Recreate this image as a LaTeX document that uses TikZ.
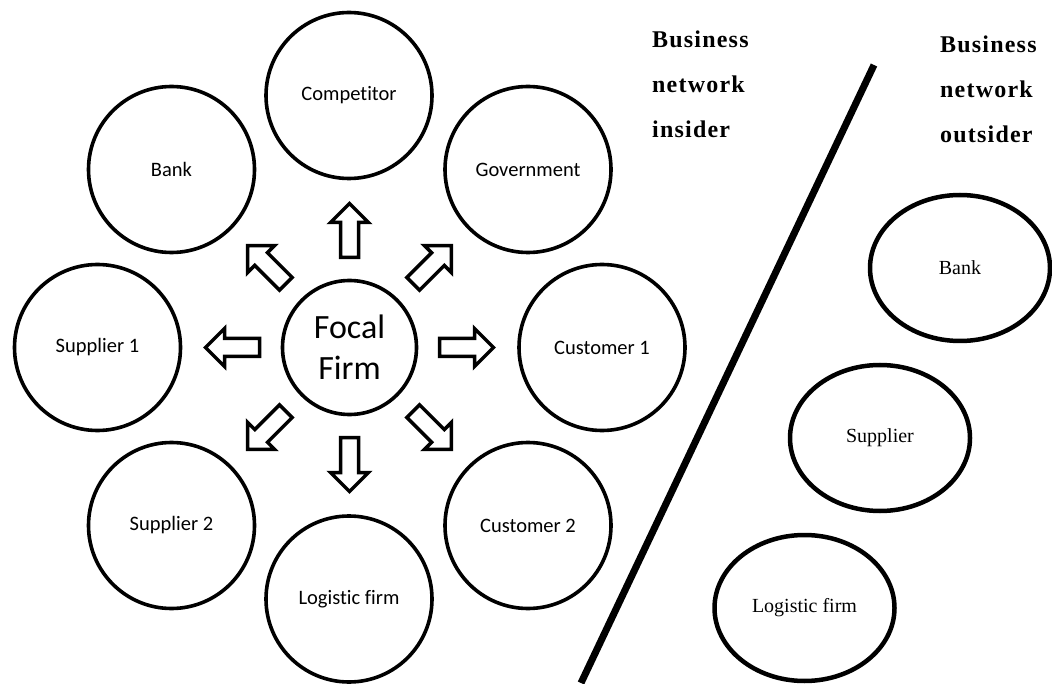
\documentclass[tikz,border=0pt]{standalone}
\usepackage{fontspec}
\setmainfont{Carlito}[Ligatures=NoCommon]
\newfontfamily\serifface{Liberation Serif}
\usetikzlibrary{shapes.geometric}

\tikzset{
  party/.style={circle, draw, line width=3.6pt, minimum size=166pt, inner sep=0pt,
                font=\fontsize{20.5}{24}\selectfont},
  focal/.style={circle, draw, line width=3.6pt, minimum size=134pt, inner sep=0pt,
                align=center, font=\fontsize{34}{41}\selectfont},
  outer/.style={ellipse, draw, line width=4.5pt, minimum width=180pt, minimum height=146pt,
                inner sep=0pt, font=\serifface\fontsize{20}{24}\selectfont},
  blockarrow/.style={draw, line width=3.5pt, fill=white, line join=miter},
  heading/.style={anchor=north west, inner sep=0pt, align=left,
                  font=\serifface\bfseries\addfontfeatures{LetterSpace=5}\fontsize{24}{45}\selectfont},
  divider/.style={line width=7pt}
}

\begin{document}
\begin{tikzpicture}[x=1pt, y=-1pt]
  \useasboundingbox (0,0) rectangle (1052,684);

  % focal firm and its network partners
  \node[focal] (F) at (349.5,347.5) {Focal\\Firm};
  \node[party] (comp) at (349,95.5)  {Competitor};
  \node[party] (bank) at (171.5,169.5) {Bank};
  \node[party] (gov)  at (528,169.5) {Government};
  \node[party] (sup1) at (97.5,347.5) {Supplier 1};
  \node[party] (cus1) at (602,347.5) {Customer 1};
  \node[party] (sup2) at (171.5,525.5) {Supplier 2};
  \node[party] (cus2) at (528,525.5) {Customer 2};
  \node[party] (log)  at (349,599)   {Logistic firm};

  % outlined block arrows radiating from the focal firm
  \foreach \a in {0,45,...,315}{
    \begin{scope}[shift={(F.center)}, rotate=\a]
      \draw[blockarrow] (90,-9) -- (125,-9) -- (125,-19) -- (144,0)
                        -- (125,19) -- (125,9) -- (90,9) -- cycle;
    \end{scope}
  }

  % dividing line between insiders and outsiders
  \coordinate (divtop) at (874,65);
  \coordinate (divbot) at (581,683);
  \draw[divider] (divtop) -- (divbot);

  % headings
  \node[heading] (ins) at (652,31) {Business\\network\\insider};
  \node[heading] (outs) at (940,36) {Business\\network\\outsider};

  % outsiders
  \node[outer] (obank) at (960,268) {Bank};
  \node[outer] (osup)  at (880,438) {Supplier};
  \node[outer] (olog)  at (804.5,608) {Logistic firm};
\end{tikzpicture}
\end{document}
